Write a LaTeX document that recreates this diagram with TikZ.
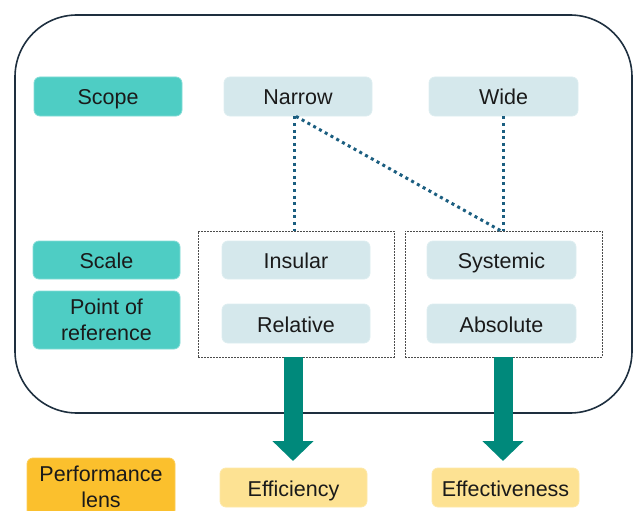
\documentclass[tikz,border=0pt]{standalone}
\usepackage{xcolor}
\usepackage{tikz}
\usepackage{fontspec}
\setmainfont{Liberation Sans}
\usetikzlibrary{calc}
\usetikzlibrary{arrows.meta}

\definecolor{frameblue}{HTML}{1E2F3F}
\definecolor{dimteal}{HTML}{4ECDC4}
\definecolor{optblue}{HTML}{D5E8EC}
\definecolor{lensorange}{HTML}{FBC02D}
\definecolor{lensyellow}{HTML}{FDE293}
\definecolor{arrowteal}{HTML}{00897B}
\definecolor{dotblue}{HTML}{1B5E80}
\definecolor{txt}{HTML}{1A1A1A}

\begin{document}
\begin{tikzpicture}[x=1pt, y=-1pt,
    box/.style={rounded corners=6pt, text=txt, align=center, inner sep=0pt,
        font=\fontsize{21.5}{26}\selectfont},
    oneline/.style={text height=20pt, text depth=3pt},
    dimbox/.style={box, fill=dimteal, draw=dimteal!70!white, line width=0.8pt},
    optbox/.style={box, oneline, fill=optblue, draw=optblue!80!white, line width=0.8pt},
    lensbox/.style={box, fill=lensorange, draw=lensorange!80!white, line width=0.8pt},
    outbox/.style={box, oneline, fill=lensyellow, draw=lensyellow!80!white, line width=0.8pt},
    groupbox/.style={draw=black!70, line width=0.8pt, dash pattern=on 2pt off 1pt, inner sep=0pt},
    link/.style={dotblue, line width=3pt, dash pattern=on 3pt off 3.6pt},
    bigarrow/.style={arrowteal, line width=19pt, -{Triangle[width=40pt, length=20pt]}}]

        \useasboundingbox (0,0) rectangle (635,511);

        %FRAME
        \draw[frameblue, line width=1.6pt, rounded corners=62pt] (15,15) rectangle (632,413);

        %DIMENSIONS
        \node[dimbox, oneline, minimum width=148pt, minimum height=39pt] (scope) at (108,96.5) {Scope};
        \node[dimbox, oneline, minimum width=147pt, minimum height=38pt] (scale) at (106.5,260) {Scale};
        \node[dimbox, minimum width=147pt, minimum height=58pt] (point) at (106.5,320) {Point of\\reference};

        %OPTIONS
        \node[optbox, minimum width=148pt, minimum height=39pt] (narrow) at (298,96.5) {Narrow};
        \node[optbox, minimum width=149pt, minimum height=39pt] (wide) at (503.5,96.5) {Wide};
        \node[optbox, minimum width=148pt, minimum height=38pt] (insular) at (296,260) {Insular};
        \node[optbox, minimum width=148pt, minimum height=39pt] (relative) at (296,323.5) {Relative};
        \node[optbox, minimum width=149pt, minimum height=38pt] (systemic) at (501.5,260) {Systemic};
        \node[optbox, minimum width=149pt, minimum height=39pt] (absolute) at (501.5,323.5) {Absolute};

        %GROUPS
        \node[groupbox, minimum width=196pt, minimum height=126pt] (grpL) at (296,294) {};
        \node[groupbox, minimum width=197pt, minimum height=126pt] (grpR) at (503.5,294) {};

        %LENS
        \node[lensbox, minimum width=148pt, minimum height=58pt] (lens) at (101,487) {Performance\\lens};
        \node[outbox, minimum width=147pt, minimum height=39pt] (efficiency) at (293.5,487.5) {Efficiency};
        \node[outbox, minimum width=147pt, minimum height=39pt] (effectiveness) at (505.5,487.5) {Effectiveness};

        %GARIS TITIK
        \draw[link] ([xshift=-4pt]narrow.south) -- ([xshift=-4pt]narrow.south |- grpL.north);
        \draw[link] ([xshift=-2pt]narrow.south) -- ([xshift=-3pt]wide.south |- grpR.north);
        \draw[link] ([xshift=-0.5pt]wide.south) -- ([xshift=-0.5pt]wide.south |- grpR.north);

        %PANAH
        \coordinate (tipL) at (293,461);
        \coordinate (tipR) at (503,461);
        \draw[bigarrow] (grpL.south -| tipL) -- (tipL);
        \draw[bigarrow] (grpR.south -| tipR) -- (tipR);

\end{tikzpicture}
\end{document}
